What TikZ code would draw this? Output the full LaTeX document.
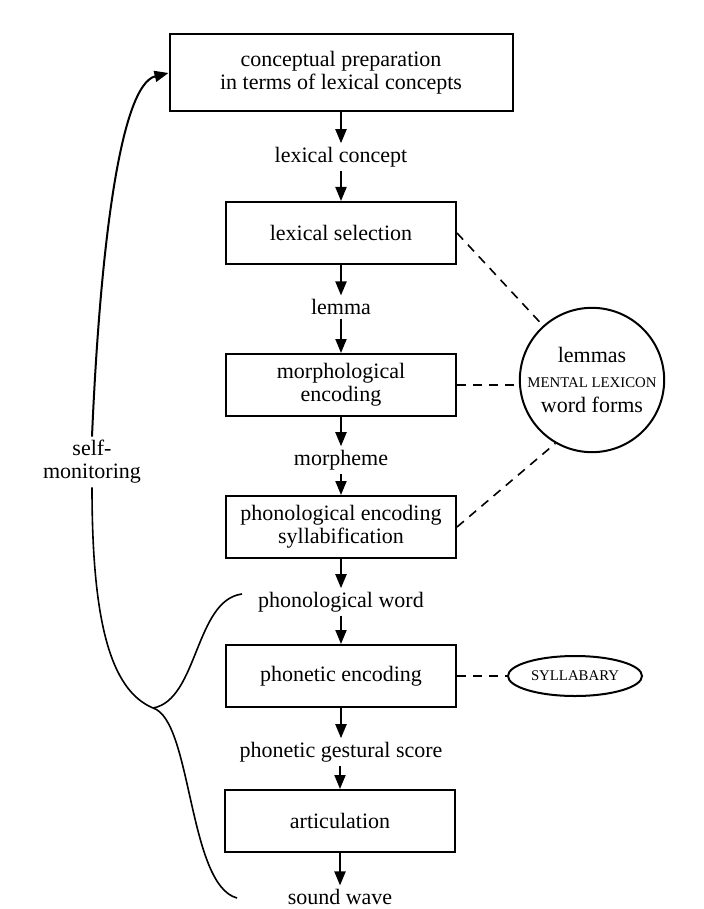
\documentclass[tikz,border=0pt]{standalone}
\usepackage{fontspec}
\setmainfont{Liberation Serif}
\usetikzlibrary{arrows.meta, shapes.geometric}

\tikzset{
	stage/.style={draw, rectangle, line width=1pt, minimum width=115pt, minimum height=31pt, align=center, inner sep=2pt},
	repr/.style={inner sep=1.5pt},
	flow/.style={-{Triangle[length=7pt, width=5.5pt]}, line width=1pt},
	store/.style={dash pattern=on 4.5pt off 3.5pt, line width=0.8pt},
	smallcap/.style={font=\fontsize{7.4}{9}\selectfont}
}

\begin{document}
\begin{tikzpicture}[x=0.5pt, y=-0.5pt, line width=0.8pt, font=\fontsize{11}{11.5}\selectfont]
		\useasboundingbox (0, 0) rectangle (703, 909);

		\node[stage, minimum width=171.5pt, minimum height=38.5pt] at (341, 73) (prep) {conceptual preparation\\in terms of lexical concepts};
		\node[repr] at (341, 157) (lc) {lexical concept};
		\node[stage] at (341, 233) (sel) {lexical selection};
		\node[repr] at (341, 307) (lemma) {lemma};
		\node[stage] at (341, 385) (morph) {morphological\\encoding};
		\node[repr] at (341, 460) (morpheme) {morpheme};
		\node[stage] at (341, 527) (phon) {phonological encoding\\syllabification};
		\node[repr] at (341, 602) (pw) {phonological word};
		\node[stage] at (341, 676) (phonet) {phonetic encoding};
		\node[repr] at (341, 752) (score) {phonetic gestural score};
		\node[stage] at (340, 821) (art) {articulation};
		\node[repr] at (340, 897) (wave) {sound wave};

		\node[draw, circle, minimum size=72pt, inner sep=0pt, align=center, line width=1pt] at (592, 380) (lex) {lemmas\\[1pt]{\fontsize{7.4}{9}\selectfont MENTAL LEXICON}\\[1pt]word forms};
		\node[draw, ellipse, minimum width=67pt, minimum height=20pt, inner sep=0pt, line width=1pt, smallcap] at (575, 676) (syl) {SYLLABARY};

		\node[repr, align=center] at (92, 462) (mon) {self-\\monitoring};
		\coordinate (cusp) at (153, 708);
		\coordinate (top) at (242, 594);
		\coordinate (bottom) at (237, 898);

		\draw[flow] (prep) -- (lc);
		\draw[flow] (lc) -- (sel);
		\draw[flow] (sel) -- (lemma);
		\draw[flow] (lemma) -- (morph);
		\draw[flow] (morph) -- (morpheme);
		\draw[flow] (morpheme) -- (phon);
		\draw[flow] (phon) -- (pw);
		\draw[flow] (pw) -- (phonet);
		\draw[flow] (phonet) -- (score);
		\draw[flow] (score.south -| art) -- (art);
		\draw[flow] (art) -- (wave);

		\draw[store] (sel.east) -- (lex.132);
		\draw[store] (morph.east) -- (morph.east -| lex.west);
		\draw[store] (phon.east) -- (lex.240);
		\draw[store] (phonet.east) -- (phonet.east -| syl.west);

		\draw (top) .. controls (195, 600) and (198, 700) .. (cusp);
		\draw (cusp) .. controls (192, 720) and (188, 885) .. (bottom);
		\draw (cusp) .. controls (110, 690) and (92, 620) .. (mon.south);
		\draw[flow] (mon.north) .. controls (100, 250) and (120, 85) .. (prep.west);
	\end{tikzpicture}
\end{document}
